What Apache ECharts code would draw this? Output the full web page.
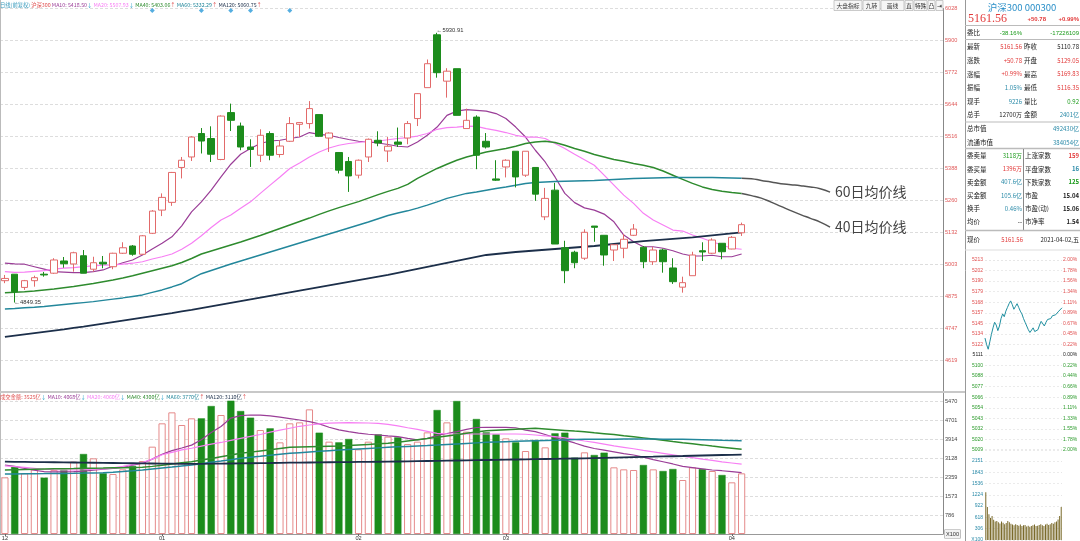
<!DOCTYPE html>
<html><head><meta charset="utf-8">
<script src="https://cdn.jsdelivr.net/npm/echarts/dist/echarts.min.js"></script>
<style>html,body{margin:0;padding:0;background:#fff;overflow:hidden}#c{width:1080px;height:541px}</style>
</head><body><div id="c"></div>
<script>
// ---------------- data ----------------
const dates = ['2020-12-10','2020-12-11','2020-12-14','2020-12-15','2020-12-16','2020-12-17','2020-12-18','2020-12-21','2020-12-22','2020-12-23','2020-12-24','2020-12-25','2020-12-28','2020-12-29','2020-12-30','2020-12-31',
'2021-01-04','2021-01-05','2021-01-06','2021-01-07','2021-01-08','2021-01-11','2021-01-12','2021-01-13','2021-01-14','2021-01-15','2021-01-18','2021-01-19','2021-01-20','2021-01-21','2021-01-22','2021-01-25','2021-01-26','2021-01-27','2021-01-28','2021-01-29',
'2021-02-01','2021-02-02','2021-02-03','2021-02-04','2021-02-05','2021-02-08','2021-02-09','2021-02-10','2021-02-18','2021-02-19','2021-02-22','2021-02-23','2021-02-24','2021-02-25','2021-02-26',
'2021-03-01','2021-03-02','2021-03-03','2021-03-04','2021-03-05','2021-03-08','2021-03-09','2021-03-10','2021-03-11','2021-03-12','2021-03-15','2021-03-16','2021-03-17','2021-03-18','2021-03-19','2021-03-22','2021-03-23','2021-03-24','2021-03-25','2021-03-26','2021-03-29','2021-03-30','2021-03-31',
'2021-04-01','2021-04-02'];
const opens  = [4937,4963,4910,4937,4963,4967,5016,5004,5037,4983,5011,4993,5047,5076,5043,5127,5220,5251,5391,5433,5527,5507,5423,5611,5557,5473,5440,5527,5443,5496,5564,5567,5603,5509,5451,5415,5360,5433,5500,5457,5493,5509,5587,5711,5923,5737,5787,5547,5593,5496,5345,5393,5456,5360,5391,5193,5300,5069,5051,5027,5156,5119,5060,5067,5119,5071,5013,5060,4988,4911,4957,5057,5047,5087,5064,5129.05];
const closes = [4946,4893,4937,4949,4960,5020,5005,5049,4967,5009,5004,5047,5069,5043,5117,5216,5271,5371,5420,5513,5497,5444,5597,5580,5473,5463,5520,5440,5477,5567,5571,5627,5516,5529,5380,5357,5420,5504,5489,5476,5484,5567,5687,5807,5771,5777,5600,5580,5440,5473,5340,5420,5353,5456,5284,5267,5084,4977,5009,5131,5151,5040,5081,5103,5144,5013,5060,5013,4933,4929,5040,5052,5100,5053,5110.78,5161.56];
const lows   = [4927,4849.35,4900,4913,4953,4964,4989,4973,4967,4973,4987,4983,5044,5037,5040,5124,5196,5237,5347,5417,5447,5413,5420,5537,5460,5393,5413,5420,5431,5493,5513,5547,5513,5453,5367,5293,5347,5413,5476,5413,5473,5484,5557,5711,5751,5671,5600,5547,5384,5467,5337,5351,5311,5353,5257,5180,5084,4927,4987,5020,5093,4997,5016,5027,5116,4987,5000,4969,4924,4889,4957,5016,5044,5023,5063,5116.35];
const highs  = [4960,4963,4940,4957,4972,5027,5032,5053,5060,5033,5036,5049,5091,5080,5120,5220,5287,5373,5433,5516,5549,5556,5600,5647,5571,5504,5544,5536,5500,5593,5573,5657,5603,5532,5453,5433,5423,5507,5536,5513,5551,5577,5689,5824,5930.91,5789,5787,5627,5600,5529,5420,5424,5456,5456,5391,5309,5329,5097,5057,5143,5156,5119,5081,5124,5164,5076,5073,5065,5027,4953,5053,5091,5107,5087,5116,5169.83];

const ma10  = [5007,5004,5003,4993,4983,4973,4971,4969,4969,4973,4980,4996,5009,5020,5040,5064,5087,5113,5157,5213,5253,5300,5353,5404,5444,5467,5487,5497,5500,5507,5513,5531,5524,5520,5511,5503,5496,5493,5489,5483,5476,5473,5493,5520,5553,5600,5617,5623,5620,5617,5607,5587,5553,5513,5460,5413,5353,5287,5250,5229,5220,5204,5173,5120,5093,5073,5073,5067,5057,5044,5036,5036,5039,5033,5033,5044];
const ma20  = [4973,4970,4971,4974,4977,4983,4987,4989,4993,4996,4999,5000,5003,5007,5013,5024,5033,5044,5063,5087,5117,5150,5180,5200,5227,5253,5287,5320,5353,5387,5409,5433,5453,5469,5480,5487,5491,5496,5497,5502,5507,5511,5517,5527,5544,5551,5553,5557,5556,5547,5540,5531,5520,5513,5513,5507,5487,5467,5444,5422,5400,5360,5320,5280,5247,5207,5180,5160,5140,5136,5120,5107,5093,5080,5067,5063];
const ma40  = [4889,4891,4893,4896,4900,4904,4909,4914,4920,4926,4933,4940,4948,4957,4967,4977,4987,4997,5010,5026,5044,5056,5068,5080,5092,5105,5118,5132,5146,5160,5174,5188,5203,5217,5230,5242,5254,5268,5282,5295,5307,5323,5347,5367,5387,5404,5420,5433,5443,5453,5460,5467,5476,5487,5493,5496,5491,5480,5467,5456,5443,5433,5423,5416,5407,5400,5391,5377,5360,5343,5327,5313,5303,5296,5291,5287];
const ma60  = [4823,4825,4828,4830,4833,4837,4841,4845,4849,4853,4858,4863,4868,4874,4880,4890,4900,4912,4925,4945,4965,4978,4991,5004,5016,5028,5040,5052,5064,5076,5088,5100,5112,5124,5136,5148,5160,5172,5185,5198,5208,5217,5228,5240,5253,5267,5277,5287,5293,5300,5307,5313,5320,5327,5331,5333,5335,5336,5337,5338,5339,5341,5343,5345,5347,5348,5349,5350,5351,5351,5351,5351,5351,5350,5349,5348];
const ma120 = [4712,4717,4722,4727,4732,4737,4742,4748,4753,4759,4765,4771,4777,4783,4789,4795,4801,4807,4814,4820,4827,4834,4841,4848,4855,4862,4869,4876,4883,4890,4897,4904,4911,4918,4925,4932,4939,4946,4953,4960,4968,4976,4984,4992,5000,5008,5016,5024,5032,5040,5044,5048,5052,5055,5058,5061,5064,5067,5070,5073,5076,5080,5084,5088,5092,5096,5099,5102,5105,5108,5111,5115,5119,5123,5127,5131];
// hand-drawn annotation curves (from last candle rightwards)
const note60 = [5348,5346,5339,5333,5326,5322,5318,5313,5306,5292];
const note40 = [5287,5278,5268,5252,5235,5218,5202,5187,5172,5152];
const eventIdx = [15,20,23,25,29];

const volumes = [2346,2788,2512,2677,2332,2650,2650,2995,3312,3133,2512,2484,2677,2815,3022,3616,4582,5037,4513,4789,4789,5299,4927,5520,5092,4816,4306,4375,3795,4582,4623,5161,4195,3823,3795,3933,3505,3823,4126,4030,4002,3726,3823,4209,5134,4623,5506,4237,4761,4209,4126,3961,3795,3436,3892,3588,4168,4195,3160,3381,3271,3367,2760,2677,2650,2857,2677,2608,2691,2236,2760,2691,2608,2443,2139,2512];
const volMa10  = [2857,2800,2720,2640,2580,2570,2570,2580,2600,2640,2680,2720,2760,2850,2930,3100,3300,3450,3560,3680,3900,4200,4450,4800,4900,4927,4920,4890,4840,4780,4720,4650,4560,4420,4310,4240,4180,4130,4100,4060,4030,3960,3900,3960,4080,4160,4240,4330,4410,4416,4416,4416,4400,4300,4237,4120,3990,3890,3770,3640,3540,3470,3400,3330,3270,3180,3080,2990,2900,2800,2750,2700,2650,2620,2580,2540];
const volMa20  = [2815,2790,2760,2720,2680,2660,2650,2650,2660,2680,2700,2740,2800,2870,2960,3100,3280,3380,3480,3550,3640,3720,3790,3880,3960,4040,4120,4220,4300,4380,4460,4513,4560,4590,4605,4609,4605,4595,4582,4540,4480,4400,4333,4250,4168,4150,4140,4140,4140,4140,4140,4140,4140,4130,4100,4060,4030,3980,3920,3850,3790,3720,3650,3590,3530,3460,3400,3340,3280,3220,3160,3100,3050,2990,2940,2890];
const volMa40  = [2650,2660,2670,2680,2690,2700,2705,2710,2718,2725,2730,2738,2745,2752,2760,2800,2850,2900,2950,2995,3060,3130,3200,3270,3340,3390,3440,3490,3540,3588,3600,3612,3622,3633,3643,3665,3688,3710,3732,3754,3800,3850,3900,3950,4002,4057,4112,4167,4222,4278,4300,4320,4340,4360,4375,4350,4320,4290,4260,4237,4195,4155,4115,4070,4030,3980,3930,3880,3830,3781,3735,3690,3640,3595,3550,3505];
const volMa60  = [2484,2488,2492,2496,2500,2505,2510,2515,2522,2530,2539,2560,2585,2615,2650,2690,2730,2770,2815,2857,2912,2967,3022,3078,3133,3175,3215,3258,3300,3340,3368,3396,3424,3452,3478,3500,3522,3544,3566,3588,3608,3627,3646,3665,3685,3707,3729,3751,3773,3795,3809,3823,3837,3851,3864,3875,3886,3897,3908,3919,3922,3925,3928,3931,3933,3932,3930,3927,3923,3919,3910,3900,3890,3880,3872,3864];
const volMa120 = [2995,2990,2985,2980,2975,2970,2965,2960,2955,2950,2945,2940,2935,2930,2925,2920,2915,2910,2905,2900,2905,2910,2915,2920,2925,2930,2935,2940,2946,2953,2957,2961,2965,2970,2975,2979,2983,2987,2991,2995,3002,3009,3016,3023,3030,3037,3044,3051,3058,3064,3071,3078,3085,3092,3099,3106,3113,3120,3127,3133,3143,3152,3162,3172,3181,3191,3200,3210,3220,3229,3240,3250,3260,3270,3280,3290];

const priceTickLabels = ['6028','5900','5772','5644','5516','5388','5260','5132','5003','4875','4747','4619'];
const volTickLabels   = ['5470','4701','3914','3128','2359','1573','786'];

// intraday mini chart (2021-04-02), 5-minute samples
const intradayPrice = [5129,5122,5117,5125,5133,5140,5146,5143,5137,5142,5150,5155,5152,5158,5162,5166,5169,5165,5160,5163,5166,5162,5158,5155,5150,5146,5142,5138,5135,5137,5140,5136,5134,5138,5143,5147,5145,5142,5146,5149,5147,5150,5153,5151,5154,5156,5158,5160,5161.56];
const intradayVol   = [1300,900,700,600,650,550,500,520,480,450,500,470,430,460,520,480,440,420,400,430,410,390,420,380,400,410,370,390,360,380,400,420,380,390,410,430,400,380,420,440,410,430,460,440,480,500,560,650,900];
const miniPriceLabels = ['5213','5202','5190','5179','5168','5157','5145','5134','5122','5111','5100','5088','5077','5066','5054','5043','5032','5020','5009'];
const miniPctLabels   = ['2.00%','1.78%','1.56%','1.34%','1.11%','0.89%','0.67%','0.45%','0.22%','0.00%','0.22%','0.44%','0.66%','0.89%','1.11%','1.33%','1.55%','1.78%','2.00%'];
const miniVolLabels   = ['X100','306','618','922','1224','1536','1843','2151'];

// legend texts
const topLegend = [['日线(前复权)', 'l0'], [' 沪深300 ', 'l1'], ['MA10: 5418.50', 'l2'], ['↓ ', 'ad'], ['MA20: 5507.93', 'l3'], ['↓ ', 'ad'],
  ['MA40: 5403.06', 'l4'], ['↑ ', 'au'], ['MA60: 5332.29', 'l5'], ['↑ ', 'au'], ['MA120: 5060.75', 'l6'], ['↑', 'au']];
const volLegend = [['成交金额: 3525亿', 'l1'], ['↓ ', 'ad'], ['MA10: 4068亿', 'l2'], ['↓ ', 'ad'], ['MA20: 4060亿', 'l3'], ['↓ ', 'ad'],
  ['MA40: 4300亿', 'l4'], ['↓ ', 'ad'], ['MA60: 3770亿', 'l5'], ['↑ ', 'au'], ['MA120: 3110亿', 'l6'], ['↑', 'au']];

// ---------------- colours ----------------
const UP = '#e26a6a', DOWN = '#1c8c1c';
const C10 = '#9a3d97', C20 = '#f77ff4', C40 = '#2e8b2e', C60 = '#23879b', C120 = '#1c2f4a';
const RED = '#e23a3a', GRN = '#1a9a1a', TEAL = '#2a8aa8', BLK = '#222';
const FONT = '"Liberation Sans", Arial, sans-serif';
const CJK = '"Noto Sans CJK SC", sans-serif';

const PAD = 20;
const cats = dates.concat(Array.from({length: PAD}, (_, i) => 'pad' + i));
function monthStart(i) {
  if (i >= dates.length) return false;
  if (i === 0) return true;
  return dates[i].slice(5, 7) !== dates[i - 1].slice(5, 7);
}
function nearest(arr, v) {
  let best = arr[0], bd = Infinity;
  for (const s of arr) { const d = Math.abs(parseFloat(s) - v); if (d < bd) { bd = d; best = s; } }
  return best;
}
const padNulls = n => Array(n).fill(null);
const hiVal = Math.max(...highs), hiIdx = highs.indexOf(hiVal);
const loVal = Math.min(...lows), loIdx = lows.indexOf(loVal);

const mainMin = 4490.6, mainInt = 128.15, mainMax = mainMin + 12 * mainInt;
const volInt = 786.7, volMax = 5879.5;
const miniMin = 5008.56, miniInt = 11.358, miniMax = miniMin + 18 * miniInt;

// ---------------- graphics helpers ----------------
function T(x, y, text, o = {}) {
  return { type: 'text', x: x, y: y, silent: true, z: 100,
    style: { text: text, fill: o.c || BLK, font: (o.w || 'normal') + ' ' + (o.s || 6.5) + 'px ' + (o.f || CJK),
      textAlign: o.a || 'left', textVerticalAlign: 'middle' } };
}
function L(x1, y1, x2, y2, c, w) {
  return { type: 'line', silent: true, z: 90, shape: { x1, y1, x2, y2 }, style: { stroke: c || '#c8c8c8', lineWidth: w || 1 } };
}
const legendRich = {
  l0: { fill: '#3a9bbd' }, l1: { fill: '#e05050' }, l2: { fill: C10 }, l3: { fill: C20 }, l4: { fill: C40 },
  l5: { fill: C60 }, l6: { fill: C120 }, ad: { fill: '#2aa0c8' }, au: { fill: '#e05050' }
};
Object.values(legendRich).forEach(r => { r.fontSize = 5.3; r.fontFamily = CJK; });
function legendText(x, y, parts) {
  return { type: 'text', x, y, silent: true, z: 100,
    style: { text: parts.map(p => '{' + p[1] + '|' + p[0] + '}').join(''), rich: legendRich,
      font: '5.3px ' + CJK, textAlign: 'left', textVerticalAlign: 'middle' } };
}
const g = [];
// borders
g.push(L(0.5, 0, 0.5, 534, '#bbb', 1));
g.push(L(0, 392, 965, 392, '#c8c8c8', 2));
g.push(L(965.5, 0, 965.5, 541, '#999', 1));
// legends
g.push(legendText(0, 5, topLegend));
g.push(legendText(0, 396.5, volLegend));
// toolbar
[['大盘指标', 834, 862], ['九转', 863, 880], ['画线', 881, 904], ['直', 905, 913], ['特殊', 914, 927], ['凸', 928, 935], ['⇥', 936, 943]]
 .forEach(a => {
   g.push({ type: 'rect', silent: true, z: 95, shape: { x: a[1], y: 0.5, width: a[2] - a[1], height: 10 }, style: { fill: '#f6f6f6', stroke: '#aaa', lineWidth: 0.6 } });
   g.push(T((a[1] + a[2]) / 2, 5.5, a[0], { s: 5.8, a: 'center', c: '#333' }));
 });
// right panel
g.push(T(1022, 7, '沪深300 000300', { c: '#2a8fc8', s: 9.5, f: '"Noto Sans CJK SC", serif', a: 'center' }));
g.push(T(968, 19, '5161.56', { c: RED, s: 12, f: '"Liberation Serif", serif' }));
g.push(T(1046, 19.5, '+50.78', { c: RED, s: 6, a: 'right', w: 'bold', f: FONT }));
g.push(T(1079, 19.5, '+0.99%', { c: RED, s: 6, a: 'right', w: 'bold', f: FONT }));
g.push(L(965, 25.5, 1080, 25.5, '#bbb', 1));
g.push(T(967, 33, '委比'));
g.push(T(1022, 33, '-38.16%', { c: GRN, a: 'right', s: 6, f: FONT }));
g.push(T(1079, 33, '-17226109', { c: GRN, a: 'right', s: 6, f: FONT }));
g.push(L(965, 39.5, 1080, 39.5, '#bbb', 1));
const rowsA = [['最新', '5161.56', RED, '昨收', '5110.78', BLK], ['涨跌', '+50.78', RED, '开盘', '5129.05', RED],
  ['涨幅', '+0.99%', RED, '最高', '5169.83', RED], ['振幅', '1.05%', TEAL, '最低', '5116.35', RED],
  ['现手', '9226', TEAL, '量比', '0.92', GRN], ['总手', '12700万', BLK, '金额', '2401亿', TEAL]];
rowsA.forEach((r, i) => {
  const y = 47 + i * 13.6;
  g.push(T(967, y, r[0])); g.push(T(1022, y, r[1], { c: r[2], a: 'right', s: 6 }));
  g.push(T(1024, y, r[3])); g.push(T(1079, y, r[4], { c: r[5], a: 'right', s: 6 }));
});
g.push(L(965, 122, 1080, 122, '#bbb', 1));
g.push(T(967, 128.5, '总市值')); g.push(T(1079, 128.5, '492430亿', { c: TEAL, a: 'right', s: 6 }));
g.push(T(967, 142.5, '流通市值')); g.push(T(1079, 142.5, '384054亿', { c: TEAL, a: 'right', s: 6 }));
g.push(L(965, 148.5, 1080, 148.5, '#bbb', 1.5));
const rowsB = [['委卖量', '3118万', GRN, '上涨家数', '159', RED], ['委买量', '1396万', RED, '平盘家数', '16', TEAL],
  ['卖金额', '407.6亿', TEAL, '下跌家数', '125', GRN], ['买金额', '105.6亿', TEAL, '市盈', '15.04', BLK],
  ['换手', '0.46%', TEAL, '市盈(动)', '15.06', BLK], ['均价', '--', BLK, '市净率', '1.54', BLK]];
rowsB.forEach((r, i) => {
  const y = 156 + i * 13.1;
  g.push(T(967, y, r[0])); g.push(T(1022, y, r[1], { c: r[2], a: 'right', s: 6 }));
  g.push(T(1025, y, r[3])); g.push(T(1079, y, r[4], { c: r[5], a: 'right', s: 6, w: 'bold' }));
});
g.push(L(1023.5, 149, 1023.5, 230, '#888', 1));
g.push(L(965, 230.5, 1080, 230.5, '#bbb', 1.5));
g.push(T(967, 240, '现价'));
g.push(T(1023, 240, '5161.56', { c: RED, a: 'right', s: 6 }));
g.push(T(1079, 240, '2021-04-02,五', { a: 'right', s: 6 }));
g.push(L(965, 250, 1080, 250, '#ddd', 1));

// ---------------- chart ----------------
const chart = echarts.init(document.getElementById('c'), null, { renderer: 'canvas' });
const lineS = (name, data, color, w, xi, yi) => ({ name, type: 'line', data, xAxisIndex: xi, yAxisIndex: yi,
  symbol: 'none', showSymbol: false, silent: true, lineStyle: { color, width: w }, itemStyle: { color }, z: 3 });
const miniColor = v => { const k = Math.round((parseFloat(v) - miniMin) / miniInt); return k > 9 ? '#e05050' : (k === 9 ? '#222' : '#2a9a2a'); };

const option = {
  animation: false,
  backgroundColor: '#fff',
  grid: [
    { left: 0, width: 943, top: 8.5, height: 383.5, containLabel: false, outerBoundsMode: 'none' },
    { left: 0, width: 943, top: 392, height: 142, containLabel: false, outerBoundsMode: 'none' },
    { left: 985, width: 77, top: 260, height: 190, containLabel: false, outerBoundsMode: 'none' },
    { left: 985, width: 77, top: 449.6, height: 90.4, containLabel: false, outerBoundsMode: 'none' }
  ],
  xAxis: [
    { type: 'category', gridIndex: 0, data: cats, boundaryGap: true, axisLine: { show: false }, axisTick: { show: false }, axisLabel: { show: false }, splitLine: { show: false } },
    { type: 'category', gridIndex: 1, data: cats, boundaryGap: true,
      axisLine: { show: true, lineStyle: { color: '#999', width: 1 } },
      axisTick: { show: true, interval: i => monthStart(i), alignWithLabel: true, length: 2, lineStyle: { color: '#666' } },
      axisLabel: { interval: i => monthStart(i), formatter: v => v.slice(5, 7), fontSize: 5.6, color: '#333', margin: 1.5, fontFamily: FONT },
      splitLine: { show: false } },
    { type: 'category', gridIndex: 2, data: intradayPrice.map((_, i) => i), show: false, boundaryGap: false },
    { type: 'category', gridIndex: 3, data: intradayVol.map((_, i) => i), show: false }
  ],
  yAxis: [
    { type: 'value', gridIndex: 0, position: 'right', min: mainMin, max: mainMax, interval: mainInt, scale: true,
      axisLine: { show: true, lineStyle: { color: '#888', width: 1 } }, axisTick: { show: false },
      axisLabel: { showMinLabel: false, color: '#e05a5a', fontSize: 5.6, margin: 2, fontFamily: FONT, formatter: v => nearest(priceTickLabels, v) },
      splitLine: { show: true, lineStyle: { color: '#ddd', type: [3, 2], width: 1 } } },
    { type: 'value', gridIndex: 1, position: 'right', min: 0, max: volMax, interval: volInt,
      axisLine: { show: true, lineStyle: { color: '#888', width: 1 } }, axisTick: { show: false },
      axisLabel: { showMaxLabel: false, color: '#444', fontSize: 5.6, margin: 2, fontFamily: FONT,
        formatter: v => v < 1 ? '{b|X100}' : nearest(volTickLabels, v),
        rich: { b: { borderColor: '#999', borderWidth: 0.6, padding: [1, 1], fontSize: 5.6, color: '#333', backgroundColor: '#f2f2f2' } } },
      splitLine: { show: true, lineStyle: { color: '#ddd', type: [3, 2], width: 1 } } },
    { type: 'value', gridIndex: 2, position: 'left', min: miniMin, max: miniMax, interval: miniInt,
      axisLine: { show: false }, axisTick: { show: false },
      axisLabel: { fontSize: 5, margin: 2, fontFamily: FONT,
        formatter: v => miniPriceLabels[18 - Math.round((v - miniMin) / miniInt)] || '', color: miniColor },
      splitLine: { show: true, lineStyle: { color: '#e6e6e6', type: [2, 2], width: 0.8 } } },
    { type: 'value', gridIndex: 2, position: 'right', min: miniMin, max: miniMax, interval: miniInt,
      axisLine: { show: false }, axisTick: { show: false },
      axisLabel: { fontSize: 5, margin: 1, fontFamily: FONT,
        formatter: v => miniPctLabels[18 - Math.round((v - miniMin) / miniInt)] || '', color: miniColor },
      splitLine: { show: false } },
    { type: 'value', gridIndex: 3, position: 'left', min: 0, max: 8 * 307.3, interval: 307.3,
      axisLine: { show: false }, axisTick: { show: false },
      axisLabel: { showMaxLabel: false, fontSize: 5, margin: 2, fontFamily: FONT, color: TEAL,
        formatter: v => miniVolLabels[Math.round(v / 307.3)] || '' },
      splitLine: { show: true, lineStyle: { color: '#e6e6e6', type: [2, 2], width: 0.8 } } }
  ],
  series: [
    { name: '沪深300', type: 'candlestick', xAxisIndex: 0, yAxisIndex: 0, barWidth: 7, silent: true, z: 4,
      data: opens.map((o, i) => [o, closes[i], lows[i], highs[i]]),
      itemStyle: { color: '#ffffff', color0: DOWN, borderColor: UP, borderColor0: DOWN, borderWidth: 1 },
      markPoint: { symbol: 'circle', symbolSize: 1, silent: true,
        itemStyle: { color: 'rgba(0,0,0,0)' },
        label: { show: true, position: 'right', distance: 0, fontSize: 5.8, color: '#333', fontFamily: FONT },
        data: [
          { coord: [hiIdx, hiVal], value: hiVal, label: { formatter: '←' + hiVal.toFixed(2), offset: [-1, -2] } },
          { coord: [loIdx, loVal], value: loVal, label: { formatter: '←' + loVal.toFixed(2), offset: [-1, 0] } }
        ] } },
    lineS('MA10', ma10, C10, 1.2, 0, 0),
    lineS('MA20', ma20, C20, 1.2, 0, 0),
    lineS('MA40', ma40, C40, 1.5, 0, 0),
    lineS('MA60', ma60, C60, 1.5, 0, 0),
    lineS('MA120', ma120, C120, 1.8, 0, 0),
    Object.assign(lineS('note60', padNulls(dates.length - 1).concat(note60), '#555', 1.5, 0, 0),
      { smooth: true, endLabel: { show: true, formatter: '60日均价线', fontSize: 14, color: '#444', fontFamily: CJK, distance: 5 } }),
    Object.assign(lineS('note40', padNulls(dates.length - 1).concat(note40), '#555', 1.5, 0, 0),
      { smooth: true, endLabel: { show: true, formatter: '40日均价线', fontSize: 14, color: '#444', fontFamily: CJK, distance: 5 } }),
    { name: 'events', type: 'scatter', xAxisIndex: 0, yAxisIndex: 0, symbol: 'diamond', symbolSize: 5, silent: true,
      itemStyle: { color: '#2a9ad8' }, data: eventIdx.map(i => [i, 6020]) },
    { name: '成交金额', type: 'bar', xAxisIndex: 1, yAxisIndex: 1, barWidth: 7.2, silent: true, z: 2,
      data: volumes.map((v, i) => ({ value: v, itemStyle: closes[i] >= opens[i]
        ? { color: '#fff', borderColor: '#e58a8a', borderWidth: 1 } : { color: DOWN, borderColor: DOWN, borderWidth: 0.5 } })) },
    lineS('vMA10', volMa10, C10, 1.2, 1, 1),
    lineS('vMA20', volMa20, C20, 1.2, 1, 1),
    lineS('vMA40', volMa40, C40, 1.5, 1, 1),
    lineS('vMA60', volMa60, C60, 1.5, 1, 1),
    lineS('vMA120', volMa120, C120, 1.8, 1, 1),
    lineS('intraday', intradayPrice, '#1f8fa0', 1, 2, 2),
    { name: 'ivol', type: 'bar', xAxisIndex: 3, yAxisIndex: 4, barWidth: 1, silent: true,
      itemStyle: { color: '#7a6a2a' }, data: intradayVol }
  ],
  graphic: { elements: g }
};
chart.setOption(option);
</script></body></html>
